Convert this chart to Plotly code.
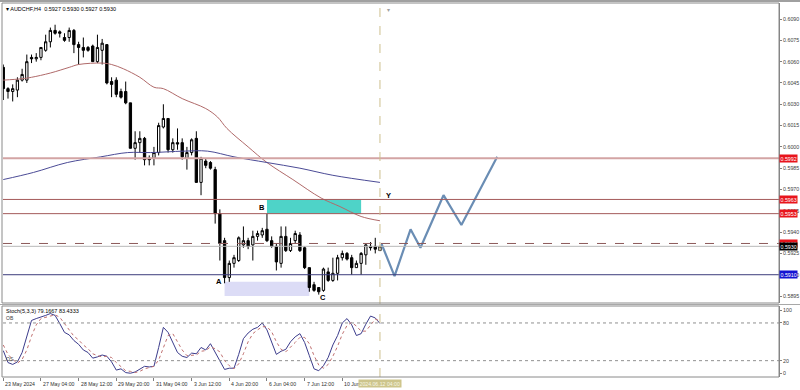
import plotly.graph_objects as go

# ---------------- data ----------------
date_tick_idx = [0, 8, 16, 24, 32, 40, 48, 56, 64, 72]
date_tick_text = ["23 May 2024", "27 May 04:00", "28 May 12:00", "29 May 20:00",
                  "31 May 04:00", "3 Jun 12:00", "4 Jun 20:00", "6 Jun 04:00",
                  "7 Jun 12:00", "10 Jun 20:00"]
cursor_label = "2024.06.12 04:00"

opens = [0.6056, 0.6041, 0.6039, 0.6040, 0.6047, 0.6047, 0.6063, 0.6062, 0.6063, 0.6068,
         0.6074, 0.6082, 0.6081, 0.6077, 0.6077, 0.6082, 0.6072, 0.6070, 0.6070, 0.6071,
         0.6060, 0.6068, 0.6072, 0.6046, 0.6047, 0.6039, 0.6039, 0.6031, 0.5999, 0.6003,
         0.6006, 0.5992, 0.5992, 0.5996, 0.6014, 0.6020, 0.5998, 0.6003, 0.6003, 0.5992,
         0.5996, 0.6006, 0.5975, 0.5990, 0.5989, 0.5984, 0.5953, 0.5934, 0.5908, 0.5918,
         0.5920, 0.5931, 0.5934, 0.5931, 0.5937, 0.5938, 0.5942, 0.5934, 0.5930, 0.5918,
         0.5937, 0.5927, 0.5934, 0.5938, 0.5929, 0.5915, 0.5903, 0.5901, 0.5899, 0.5912,
         0.5906, 0.5911, 0.5922, 0.5925, 0.5922, 0.5915, 0.5918, 0.5924, 0.5930, 0.5930,
         0.5927]
highs = [0.6058, 0.6042, 0.6044, 0.6049, 0.6055, 0.6065, 0.6065, 0.6066, 0.6070, 0.6079,
         0.6084, 0.6086, 0.6082, 0.6080, 0.6084, 0.6083, 0.6074, 0.6077, 0.6071, 0.6072,
         0.6079, 0.6076, 0.6072, 0.6049, 0.6049, 0.6041, 0.6046, 0.6031, 0.6011, 0.6011,
         0.6007, 0.5994, 0.6000, 0.6017, 0.6030, 0.6020, 0.6006, 0.6013, 0.6006, 0.6000,
         0.6006, 0.6011, 0.5993, 0.5992, 0.5990, 0.5986, 0.5956, 0.5936, 0.5920, 0.5924,
         0.5937, 0.5944, 0.5936, 0.5941, 0.5941, 0.5943, 0.5953, 0.5937, 0.5932, 0.5944,
         0.5944, 0.5936, 0.5941, 0.5940, 0.5930, 0.5915, 0.5905, 0.5901, 0.5915, 0.5915,
         0.5922, 0.5924, 0.5927, 0.5926, 0.5924, 0.5920, 0.5926, 0.5932, 0.5933, 0.5936,
         0.5930]
lows = [0.6033, 0.6034, 0.6032, 0.6035, 0.6046, 0.6045, 0.6059, 0.6060, 0.6061, 0.6067,
        0.6070, 0.6079, 0.6077, 0.6074, 0.6074, 0.6066, 0.6058, 0.6063, 0.6067, 0.6060,
        0.6059, 0.6058, 0.6044, 0.6035, 0.6035, 0.6034, 0.6030, 0.5999, 0.5991, 0.5996,
        0.5987, 0.5987, 0.5987, 0.5994, 0.6013, 0.5996, 0.5996, 0.5998, 0.5991, 0.5984,
        0.5994, 0.5975, 0.5966, 0.5985, 0.5984, 0.5946, 0.5920, 0.5904, 0.5905, 0.5915,
        0.5919, 0.5929, 0.5928, 0.5920, 0.5934, 0.5936, 0.5933, 0.5929, 0.5913, 0.5915,
        0.5926, 0.5926, 0.5932, 0.5926, 0.5914, 0.5898, 0.5898, 0.5896, 0.5898, 0.5905,
        0.5905, 0.5906, 0.5920, 0.5920, 0.5910, 0.5915, 0.5910, 0.5917, 0.5927, 0.5925,
        0.5927]
closes = [0.6041, 0.6039, 0.6041, 0.6047, 0.6051, 0.6060, 0.6062, 0.6063, 0.6070, 0.6074,
          0.6082, 0.6080, 0.6080, 0.6075, 0.6082, 0.6072, 0.6070, 0.6068, 0.6068, 0.6060,
          0.6070, 0.6073, 0.6045, 0.6044, 0.6037, 0.6035, 0.6031, 0.5999, 0.6003, 0.6006,
          0.5991, 0.5991, 0.5996, 0.6015, 0.6020, 0.5998, 0.6003, 0.6002, 0.5993, 0.5996,
          0.6005, 0.5975, 0.5992, 0.5987, 0.5985, 0.5953, 0.5932, 0.5908, 0.5918, 0.5922,
          0.5936, 0.5934, 0.5930, 0.5937, 0.5939, 0.5941, 0.5934, 0.5930, 0.5919, 0.5937,
          0.5927, 0.5932, 0.5939, 0.5927, 0.5915, 0.5901, 0.5899, 0.5898, 0.5914, 0.5906,
          0.5911, 0.5922, 0.5925, 0.5921, 0.5915, 0.5918, 0.5925, 0.5931, 0.5929, 0.5928,
          0.5930]
bar_idx = list(range(len(closes)))

# moving averages (bar index, price)
ma_red_x = [0, 4, 6, 10, 14, 16, 21, 23, 25.5, 29, 32, 34, 38, 43, 45.5, 47.5, 52, 56, 61.5, 67.5, 71.5, 76, 80]
ma_red_y = [0.6047, 0.6048, 0.6049, 0.6052, 0.6056, 0.6058, 0.6059, 0.6058, 0.6055, 0.6049, 0.6042,
            0.6041, 0.6034, 0.6027, 0.6021, 0.6013, 0.6000, 0.5989, 0.5977, 0.5964, 0.5958, 0.5951, 0.5948]
ma_blue_x = [0, 6.4, 13.6, 20.7, 26.4, 31.3, 38.3, 43.4, 49, 56, 63, 70, 80]
ma_blue_y = [0.5977, 0.5982, 0.5989, 0.5993, 0.5996, 0.5996, 0.5997, 0.5997, 0.5993, 0.5989,
             0.5985, 0.5980, 0.5975]

# horizontal levels
level_prices = [0.5992, 0.5963, 0.5953, 0.5932, 0.5930, 0.5910]
level_colors = ["#d3a4a4", "#a45a5a", "#a45a5a", "#8c5a5a", "#b8b8b8", "#3c3c7c"]
level_widths = [2, 1, 1, 1, 1, 1]
level_dash = ["solid", "solid", "solid", "dash", "solid", "solid"]
label_prices = [0.5992, 0.5963, 0.5953, 0.5932, 0.5930, 0.5910]
label_bg = ["#e8141c", "#e8141c", "#e8141c", "#e8141c", "#000000", "#1414d2"]

price_ticks = [0.5895, 0.5910, 0.5925, 0.5940, 0.5955, 0.5970, 0.5985, 0.6000,
               0.6015, 0.6030, 0.6045, 0.6060, 0.6075, 0.6090]

# zones
zone_b = dict(x0=56, x1=76, y0=0.5953, y1=0.5963)
zone_a = dict(x0=47, x1=65, y0=0.5895, y1=0.5905)

# projected path
proj_x = [80.3, 83.1, 86.5, 88.6, 93.5, 97.3, 104.9]
proj_y = [0.5932, 0.5909, 0.5942, 0.5929, 0.5966, 0.5945, 0.5993]

# point labels
pt_text = ["A", "B", "C", "Y"]
pt_x = [45.9, 55.0, 67.8, 81.8]
pt_y = [0.5905, 0.5957, 0.5894, 0.5966]

# stochastic
stoch_main = [36, 17, 14, 18, 33, 60, 84, 87, 89, 92, 95, 92, 79, 65, 61, 52, 46, 37, 33, 24,
              26, 29, 27, 18, 5, 7, 1, 0, 2, 7, 11, 10, 11, 41, 73, 65, 50, 33, 27, 25,
              32, 31, 41, 37, 47, 33, 21, 6, 8, 8, 30, 55, 64, 70, 73, 80, 69, 50, 30, 35,
              38, 50, 58, 63, 49, 28, 7, 4, 12, 25, 45, 60, 80, 87, 77, 60, 63, 78, 91, 88,
              79.1667]
stoch_sig = [45, 30, 22, 16, 22, 37, 59, 77, 87, 89, 92, 93, 89, 79, 68, 59, 53, 45, 39, 31,
             28, 26, 27, 25, 17, 10, 4, 3, 1, 3, 7, 9, 11, 21, 42, 60, 63, 49, 37, 28,
             28, 29, 35, 36, 42, 39, 34, 20, 12, 7, 15, 31, 50, 63, 69, 74, 74, 66, 50, 38,
             34, 41, 49, 57, 57, 47, 28, 13, 8, 14, 27, 43, 62, 76, 81, 75, 67, 67, 77, 86,
             83.4333]
stoch_levels = [80, 20]
stoch_ticks = [0, 20, 80, 100]

# ---------------- layout helpers ----------------
W, H = 800, 390
def py(p):
    return 1 - p / H
def px(p):
    return p / W

X0, X1 = 3, 779
MAIN_T, MAIN_B = 3, 303
OSC_T, OSC_B = 306, 377
x_range = [-0.06, 164.75]
y_range = [0.58901, 0.61013]

FONT = "Liberation Sans, Arial, sans-serif"

fig = go.Figure()

fig.add_trace(go.Candlestick(
    x=bar_idx, open=opens, high=highs, low=lows, close=closes,
    increasing=dict(line=dict(color="#000000", width=1), fillcolor="#ffffff"),
    decreasing=dict(line=dict(color="#000000", width=1), fillcolor="#000000"),
    whiskerwidth=0, showlegend=False, hoverinfo="skip", xaxis="x", yaxis="y"))

fig.add_trace(go.Scatter(x=ma_red_x, y=ma_red_y, mode="lines",
                         line=dict(color="#b06a6a", width=1, shape="spline"),
                         showlegend=False, hoverinfo="skip", xaxis="x", yaxis="y"))
fig.add_trace(go.Scatter(x=ma_blue_x, y=ma_blue_y, mode="lines",
                         line=dict(color="#4b4b96", width=1, shape="spline"),
                         showlegend=False, hoverinfo="skip", xaxis="x", yaxis="y"))

fig.add_trace(go.Scatter(x=proj_x, y=proj_y, mode="lines",
                         line=dict(color="#6a8db4", width=2.2),
                         showlegend=False, hoverinfo="skip", xaxis="x", yaxis="y"))

fig.add_trace(go.Scatter(x=bar_idx, y=stoch_main, mode="lines",
                         line=dict(color="#3c3c8c", width=1),
                         showlegend=False, hoverinfo="skip", xaxis="x2", yaxis="y2"))
fig.add_trace(go.Scatter(x=bar_idx, y=stoch_sig, mode="lines",
                         line=dict(color="#c07070", width=1, dash="dot"),
                         showlegend=False, hoverinfo="skip", xaxis="x2", yaxis="y2"))

shapes = []
# zones
shapes.append(dict(type="rect", xref="x", yref="y", layer="below", line=dict(width=0),
                   fillcolor="#dcdcf6", **zone_a))
shapes.append(dict(type="rect", xref="x", yref="y", layer="below", line=dict(width=0),
                   fillcolor="#4ed3c8", **zone_b))
# levels
for p, c, w, d in zip(level_prices, level_colors, level_widths, level_dash):
    shapes.append(dict(type="line", xref="x domain", yref="y", x0=0, x1=1, y0=p, y1=p,
                       line=dict(color=c, width=w, dash=d)))
# stochastic levels
for lv in stoch_levels:
    shapes.append(dict(type="line", xref="x2 domain", yref="y2", x0=0, x1=1, y0=lv, y1=lv,
                       line=dict(color="#909090", width=1, dash="dot")))
# cursor vertical line
shapes.append(dict(type="line", xref="x", yref="paper", x0=80, x1=80, y0=py(OSC_B), y1=py(1),
                   line=dict(color="#cdbf8e", width=1, dash="dash")))
# pane frames
shapes.append(dict(type="rect", xref="paper", yref="paper", x0=px(2), x1=px(X1),
                   y0=py(MAIN_B), y1=py(MAIN_T), line=dict(color="#8a8a8a", width=1)))
shapes.append(dict(type="rect", xref="paper", yref="paper", x0=px(0), x1=px(800),
                   y0=py(OSC_T - 1), y1=py(MAIN_B + 1), fillcolor="#a8a8a8", line=dict(width=0)))
shapes.append(dict(type="rect", xref="paper", yref="paper", x0=px(2), x1=px(X1),
                   y0=py(OSC_B), y1=py(OSC_T), line=dict(color="#8a8a8a", width=1)))
shapes.append(dict(type="line", xref="paper", yref="paper", x0=0, x1=1, y0=py(1), y1=py(1),
                   line=dict(color="#a0a0a0", width=2)))

annotations = []
# price labels
for p, bg in zip(label_prices, label_bg):
    annotations.append(dict(xref="paper", yref="y", x=px(X1), y=p, xanchor="left",
                            yanchor="middle", text=f"{p:.4f}", showarrow=False,
                            bgcolor=bg, borderpad=0.5,
                            font=dict(family=FONT, size=5.3, color="#ffffff")))
# point labels
for t, x, y in zip(pt_text, pt_x, pt_y):
    annotations.append(dict(xref="x", yref="y", x=x, y=y, text=f"<b>{t}</b>", showarrow=False,
                            font=dict(family=FONT, size=7.5, color="#000000")))
# title
annotations.append(dict(xref="paper", yref="paper", x=px(4), y=py(9), xanchor="left",
                        yanchor="middle", showarrow=False,
                        text="▾ AUDCHF,H4  0.5927 0.5930 0.5927 0.5930",
                        font=dict(family=FONT, size=5.5, color="#000000")))
annotations.append(dict(xref="paper", yref="paper", x=px(388), y=py(5), showarrow=False,
                        text="▾", font=dict(family=FONT, size=6, color="#a0a0a0")))
# stoch labels
annotations.append(dict(xref="paper", yref="paper", x=px(4), y=py(311), xanchor="left",
                        yanchor="middle", showarrow=False,
                        text="Stoch(5,3,3) 79.1667 83.4333",
                        font=dict(family=FONT, size=5.5, color="#000000")))
annotations.append(dict(xref="paper", yref="paper", x=px(4), y=py(318), xanchor="left",
                        yanchor="middle", showarrow=False, text="OB",
                        font=dict(family=FONT, size=5, color="#404040")))
annotations.append(dict(xref="paper", yref="paper", x=px(4), y=py(359), xanchor="left",
                        yanchor="middle", showarrow=False, text="OS",
                        font=dict(family=FONT, size=5, color="#404040")))
# date labels
for i, t in zip(date_tick_idx, date_tick_text):
    annotations.append(dict(xref="x2", yref="paper", x=i, y=py(379), xanchor="left",
                            yanchor="top", showarrow=False, text=t,
                            font=dict(family=FONT, size=5.2, color="#303030")))
annotations.append(dict(xref="x2", yref="paper", x=80, y=py(379), xanchor="center",
                        yanchor="top", showarrow=False, text=cursor_label, bgcolor="#cdc58c",
                        borderpad=0.5, font=dict(family=FONT, size=5.2, color="#f6f6e6")))

fig.update_layout(
    width=W, height=H,
    margin=dict(l=0, r=0, t=0, b=0),
    paper_bgcolor="#ffffff", plot_bgcolor="#ffffff",
    showlegend=False,
    shapes=shapes, annotations=annotations,
    xaxis=dict(domain=[px(X0), px(X1)], range=x_range, anchor="y",
               showticklabels=False, showgrid=False, zeroline=False, showline=False,
               rangeslider=dict(visible=False), fixedrange=True),
    yaxis=dict(domain=[py(MAIN_B), py(MAIN_T)], range=y_range, anchor="x", side="right",
               tickvals=price_ticks, ticktext=[f"{v:.4f}" for v in price_ticks],
               ticks="outside", ticklen=2, tickcolor="#808080", automargin=False,
               tickfont=dict(family=FONT, size=5.3, color="#404040"),
               showgrid=False, zeroline=False, showline=True, linecolor="#808080"),
    xaxis2=dict(domain=[px(X0), px(X1)], range=x_range, anchor="y2", automargin=False,
                tickvals=date_tick_idx, ticks="outside", ticklen=3, tickcolor="#808080",
                showticklabels=False, showgrid=False, zeroline=False, showline=False),
    yaxis2=dict(domain=[py(OSC_B), py(OSC_T)], range=[-6, 107], anchor="x2", side="right",
                tickvals=stoch_ticks, ticks="outside", ticklen=2, tickcolor="#808080",
                automargin=False,
                tickfont=dict(family=FONT, size=5.3, color="#404040"),
                showgrid=False, zeroline=False, showline=True, linecolor="#808080"),
)

fig.write_html("out.html", config={"displayModeBar": False},
               post_script="document.body.style.margin='0px';document.body.style.overflow='hidden';")
